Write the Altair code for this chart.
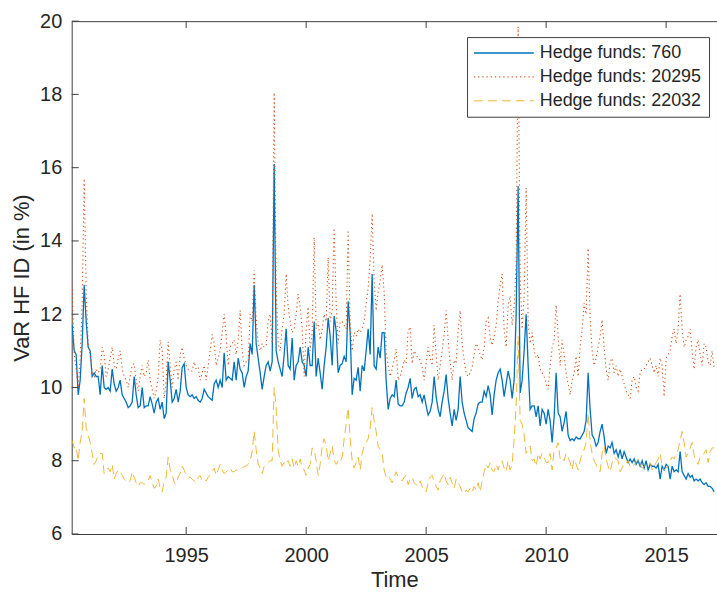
import altair as alt
import pandas as pd

# Monthly observations, first one in April 1990
start_year = 1990
start_month = 4

var_760 = [
    11.7, 11.0, 10.9, 9.8, 10.2, 11.2, 12.8, 11.8, 11.1, 11.0,
    10.3, 10.4, 10.3, 10.3, 9.8, 10.6, 10.0, 9.95, 10.0, 9.9,
    10.5, 10.1, 9.9, 10.0, 10.2, 9.8, 9.7, 9.6, 9.45, 9.5,
    9.6, 10.3, 9.8, 9.45, 9.5, 10.0, 9.45, 9.5, 9.5, 9.75,
    9.55, 9.3, 9.6, 9.7, 9.4, 9.6, 9.15, 9.3, 10.7, 10.2,
    9.6, 9.7, 9.95, 9.6, 9.9, 10.55, 10.65, 10.0, 9.8, 9.75,
    9.8, 9.7, 9.75, 9.65, 9.6, 9.7, 9.95, 9.85, 9.75, 9.7,
    9.65, 10.1, 10.2, 10.0, 10.2, 10.0, 10.95, 10.2, 10.3, 10.25,
    10.2, 10.7, 10.2, 10.8, 10.5, 10.4, 10.0, 10.3, 10.45, 11.2,
    10.9, 12.8, 11.2, 10.8, 10.4, 9.95, 10.3, 10.6, 10.7, 10.45,
    10.7, 16.1, 11.0, 10.7, 10.5, 10.3, 10.9, 11.6, 10.6, 10.5,
    11.35, 10.2, 10.6, 10.7, 11.1, 10.7, 10.6, 10.3, 11.1, 10.6,
    10.6, 11.8, 10.3, 10.8, 10.4, 9.95, 10.6, 11.1, 11.9, 11.4,
    10.6, 11.95, 11.55, 10.4, 10.6, 10.65, 10.85, 10.7, 12.35, 11.5,
    9.8, 10.25, 10.2, 10.55, 9.9, 10.6, 10.45, 11.0, 11.6, 10.9,
    13.1, 10.6, 10.5, 11.1, 10.8, 11.5, 11.5, 10.2, 9.4, 9.7,
    9.8, 9.75, 10.2, 9.55, 9.5, 9.5, 9.6, 9.85, 10.0, 10.25,
    9.7, 9.95, 10.0, 9.75, 9.8, 9.6, 9.8, 9.5, 9.25, 9.35,
    9.6, 10.3, 9.75, 9.4, 9.2, 9.6, 9.9, 10.35, 9.7, 9.3,
    8.95, 9.4, 9.1, 9.4, 10.3, 9.6, 9.3, 9.1, 8.9, 8.85,
    8.8, 9.15, 9.3, 9.55, 9.6, 9.6, 9.9, 9.75, 10.05, 9.8,
    9.25, 9.8, 10.2, 10.4, 10.5, 10.2, 9.75, 10.1, 10.45, 10.2,
    9.7, 10.2, 12.0, 15.5, 9.85, 10.2, 11.0, 12.0, 10.6, 9.4,
    9.5, 9.5, 9.2, 9.5, 8.95, 9.4, 9.3, 9.0, 9.4, 9.1,
    8.5, 9.2, 10.4, 9.3, 9.2, 8.8, 9.05, 9.35, 8.7, 8.55,
    8.6, 8.55, 8.65, 8.6, 8.6, 8.7, 8.8, 9.1, 10.4, 9.4,
    8.7, 8.6, 8.4, 8.5, 8.8, 9.0, 8.65, 8.2, 8.4, 8.35,
    8.5, 8.2, 8.3, 8.1, 8.3, 8.05, 8.25, 8.1, 7.95, 8.05,
    7.95, 8.05, 7.9, 8.0, 7.85, 8.0, 7.8, 8.0, 7.75, 7.9,
    7.85, 7.85, 7.8, 7.9, 7.5, 7.85, 7.75, 7.9, 7.85, 7.5,
    7.85, 7.7, 7.75, 7.7, 8.25, 7.7, 7.6, 7.5, 7.65, 7.55,
    7.6, 7.45, 7.5, 7.45, 7.5, 7.4, 7.35, 7.4, 7.3, 7.3, 7.25, 7.15,
]

var_20295 = [
    12.8, 10.9, 10.5, 10.0, 10.8, 12.3, 15.7, 12.6, 11.2, 10.9,
    10.4, 10.3, 10.5, 10.4, 10.5, 11.1, 10.9, 10.3, 10.5, 10.8,
    11.1, 10.6, 10.5, 10.8, 11.0, 10.5, 10.3, 10.2, 10.0, 10.3,
    10.6, 10.65, 10.2, 9.9, 10.3, 10.6, 10.3, 10.4, 10.75, 10.2,
    9.95, 9.7, 9.9, 10.3, 11.3, 11.0, 9.7, 10.2, 11.25, 10.6,
    10.0, 10.5, 10.7, 10.2, 10.9, 11.1, 10.8, 10.6, 10.5, 10.45,
    10.45, 10.7, 10.5, 10.55, 10.2, 10.4, 10.6, 10.2, 10.6, 11.0,
    11.45, 11.2, 10.6, 10.8, 11.0, 11.5, 12.0, 11.4, 10.6, 11.1,
    11.2, 11.3, 10.9, 11.3, 12.1, 11.0, 10.6, 10.7, 10.7, 12.0,
    11.8, 13.2, 11.9, 11.2, 11.0, 11.2, 11.1, 11.15, 11.8, 12.0,
    11.2, 18.05, 12.8, 11.2, 11.0, 11.6, 12.0, 13.1, 12.2, 11.8,
    11.5, 11.6, 12.0, 12.55, 12.2, 11.6, 10.3, 11.6, 12.2, 11.0,
    11.5, 14.1, 11.6, 11.8, 11.3, 11.6, 12.0, 11.8, 13.55, 11.8,
    12.1, 14.35, 12.3, 11.2, 11.8, 11.8, 11.7, 11.6, 14.3, 11.7,
    11.0, 11.5, 11.4, 11.6, 11.5, 11.6, 11.8, 12.3, 12.7, 13.5,
    14.75, 12.9, 12.1, 12.6, 12.9, 13.35, 12.6, 11.0, 10.6, 10.3,
    10.5, 10.75, 11.05, 10.2, 10.3, 10.5, 10.75, 10.65, 11.55, 11.65,
    10.65, 11.0, 10.9, 10.8, 10.75, 10.55, 10.2, 10.65, 11.1, 10.8,
    10.6, 11.7, 10.9, 10.2, 10.6, 11.0, 11.45, 12.1, 11.3, 10.7,
    10.2, 10.75, 10.65, 11.55, 12.1, 11.2, 10.75, 10.4, 10.3, 10.4,
    10.55, 10.9, 11.2, 11.1, 10.9, 10.75, 11.1, 11.8, 11.9, 11.35,
    11.15, 11.4, 11.7, 12.35, 12.8, 13.1, 11.55, 11.1, 12.25, 12.5,
    11.7, 12.2, 13.4, 19.85, 13.0, 11.6, 12.5, 15.45, 11.8, 11.2,
    11.5, 11.0, 10.8, 10.9, 10.5, 10.4, 10.3, 10.1, 9.95, 10.6,
    11.1, 11.3, 12.25, 11.4, 10.6, 11.3, 10.9, 10.4, 10.1, 9.8,
    10.2, 10.4, 10.85, 10.3, 11.1, 11.6, 12.3, 12.0, 13.8, 11.9,
    11.0, 10.6, 10.8, 11.1, 11.4, 11.85, 11.1, 10.5, 10.2, 10.7,
    10.8, 10.4, 10.6, 10.3, 10.5, 10.3, 10.1, 9.9, 9.8, 9.7,
    10.2, 10.3, 10.0, 9.9, 10.4, 10.5, 10.5, 10.6, 10.7, 10.8,
    10.6, 10.4, 10.6, 10.3, 10.8, 10.6, 9.75, 10.8, 10.9, 11.0,
    11.4, 11.6, 11.2, 11.6, 12.55, 11.6, 11.1, 11.3, 11.4, 11.6,
    11.0, 10.5, 11.1, 11.3, 10.9, 10.6, 11.2, 11.1, 10.7, 10.6, 11.0, 10.5,
]

var_22032 = [
    8.55, 8.35, 8.4, 8.0, 8.5, 8.8, 9.7, 8.9, 8.7, 8.5,
    8.2, 7.9, 8.0, 8.15, 8.2, 8.2, 7.65, 7.75, 7.8, 7.7,
    7.9, 7.5, 7.65, 7.75, 7.7, 7.6, 7.5, 7.45, 7.4, 7.45,
    7.7, 7.55, 7.4, 7.3, 7.4, 7.4, 7.35, 7.4, 7.45, 7.6,
    7.4, 7.25, 7.3, 7.5, 7.25, 7.15, 7.45, 7.55, 8.1, 7.75,
    7.65, 7.4, 7.35, 7.55, 7.65, 7.85, 7.75, 7.6, 7.55, 7.55,
    7.5, 7.45, 7.4, 7.55, 7.6, 7.45, 7.5, 7.45, 7.55, 7.6,
    7.7, 7.8, 7.6, 7.75, 7.9, 7.75, 7.65, 7.7, 7.75, 7.8,
    7.7, 7.7, 7.75, 7.75, 7.8, 7.8, 7.85, 7.85, 7.9, 8.0,
    8.25, 8.8, 8.3, 7.9, 7.8, 7.65, 7.85, 7.9, 7.95, 8.0,
    8.0, 10.0, 9.45, 8.3, 8.0, 7.85, 7.95, 7.9, 8.0, 7.85,
    8.05, 7.8, 8.0, 7.85, 8.05, 7.8, 7.75, 7.6, 7.8, 7.9,
    8.35, 8.3, 8.0, 7.6, 7.9, 8.4, 8.6, 8.4, 8.0, 8.2,
    8.4, 8.0, 7.9, 8.0, 7.95, 8.1, 8.6, 9.0, 9.45, 8.6,
    8.0, 7.8, 7.95, 8.1, 7.75, 8.2, 8.4, 8.5, 8.6, 8.9,
    9.45, 9.1, 8.8, 8.4, 8.3, 8.2, 7.75, 7.55, 7.6, 7.5,
    7.4, 7.55, 7.7, 7.55, 7.5, 7.45, 7.55, 7.6, 7.35, 7.5,
    7.55, 7.4, 7.35, 7.3, 7.45, 7.3, 7.2, 7.15, 7.4, 7.55,
    7.6, 7.45, 7.3, 7.2, 7.45, 7.55, 7.65, 7.45, 7.35, 7.55,
    7.4, 7.25, 7.5, 7.4, 7.3, 7.15, 7.1, 7.2, 7.15, 7.25,
    7.15, 7.3, 7.2, 7.4, 7.15, 7.45, 7.7, 7.9, 7.8, 7.95,
    7.75, 7.7, 7.9, 7.75, 7.95, 8.0, 7.8, 7.7, 8.0, 7.75,
    7.9, 8.6, 9.5, 11.4, 9.1, 9.0, 8.7, 8.2, 8.3, 8.4,
    8.0, 8.05, 7.85, 8.2, 8.05, 8.2, 8.1, 7.95, 7.95, 8.2,
    7.75, 8.3, 8.35, 8.5, 8.05, 8.1, 8.0, 8.2, 8.1, 7.95,
    7.75, 8.05, 7.9, 7.75, 8.0, 8.2, 8.3, 8.5, 9.3, 8.5,
    8.2, 8.0, 7.9, 7.75, 7.7, 8.2, 8.4, 8.05, 7.85, 7.7,
    7.95, 8.1, 8.05, 8.0, 7.7, 7.8, 7.95, 7.95, 8.0, 7.85,
    7.8, 7.9, 7.95, 8.05, 7.9, 7.8, 7.85, 7.9, 7.9, 7.95,
    7.75, 7.85, 7.95, 8.05, 8.2, 7.85, 7.75, 7.8, 7.9, 8.0,
    8.1, 8.05, 8.2, 8.3, 8.55, 8.8, 8.5, 8.1, 8.2, 8.35,
    8.5, 8.15, 8.0, 7.9, 8.1, 8.15, 8.2, 8.3, 7.95, 8.25, 8.35, 8.35,
]

series_names = ["Hedge funds: 760", "Hedge funds: 20295", "Hedge funds: 22032"]
series_values = [var_760, var_20295, var_22032]
series_colors = ["#0072BD", "#D95319", "#EDB120"]
series_dashes = [[1, 0], [1.2, 3], [9, 5]]
series_widths = [1.3, 0.9, 1.3]

x_ticks = [1995, 2000, 2005, 2010, 2015]
y_ticks = [6, 8, 10, 12, 14, 16, 18, 20]

FONT = "Liberation Sans"
INK = "#262626"
FRAME = "#404040"
W, H = 648, 515

rows = []
for name, vals in zip(series_names, series_values):
    for i, v in enumerate(vals):
        rows.append({"t": start_year + (start_month - 1 + i) / 12, "v": v, "series": name})
df = pd.DataFrame(rows)

x_scale = alt.Scale(domain=[1990.23, 2017.12], nice=False, zero=False)
y_scale = alt.Scale(domain=[6, 20], nice=False, zero=False)

legend_spec = alt.Legend(
    title=None,
    orient="none",
    legendX=397,
    legendY=16,
    padding=7,
    strokeColor=FRAME,
    fillColor="white",
    rowPadding=6,
    symbolType="M-4,0H4",
    symbolSize=225,
    symbolOffset=21,
    symbolStrokeWidth=1.2,
    labelOffset=27,
    labelFont=FONT,
    labelFontSize=18,
    labelColor=INK,
    labelLimit=300,
)

lines = alt.Chart(df).mark_line(clip=True).encode(
    x=alt.X("t:Q", scale=x_scale,
            axis=alt.Axis(values=x_ticks, format="d", title="Time",
                          labelPadding=12, titlePadding=4)),
    y=alt.Y("v:Q", scale=y_scale,
            axis=alt.Axis(values=y_ticks, title="VaR HF ID (in %)",
                          labelPadding=10, titlePadding=6)),
    color=alt.Color("series:N", scale=alt.Scale(domain=series_names, range=series_colors),
                    legend=legend_spec),
    strokeDash=alt.StrokeDash("series:N", scale=alt.Scale(domain=series_names, range=series_dashes),
                              legend=legend_spec),
    strokeWidth=alt.StrokeWidth("series:N", scale=alt.Scale(domain=series_names, range=series_widths),
                                legend=None),
)

# inward tick marks on the left, bottom and top edges of the box
ytick_df = pd.DataFrame({"v": y_ticks})
xtick_df = pd.DataFrame({"t": x_ticks})

left_ticks = alt.Chart(ytick_df).mark_rule(color=FRAME, strokeWidth=1).encode(
    y=alt.Y("v:Q", scale=y_scale),
    x=alt.value(0), x2=alt.value(7),
)
bottom_ticks = alt.Chart(xtick_df).mark_rule(color=FRAME, strokeWidth=1).encode(
    x=alt.X("t:Q", scale=x_scale),
    y=alt.value(H), y2=alt.value(H - 7),
)
top_ticks = alt.Chart(xtick_df).mark_rule(color=FRAME, strokeWidth=1).encode(
    x=alt.X("t:Q", scale=x_scale),
    y=alt.value(0), y2=alt.value(7),
)

chart = (
    alt.layer(lines, left_ticks, bottom_ticks, top_ticks)
    .properties(
        width=W, height=H,
        padding={"left": 72, "top": 20, "right": 0, "bottom": 57},
        autosize=alt.AutoSizeParams(type="none"),
        background="white",
    )
    .configure_view(stroke=FRAME, strokeWidth=1)
    .configure_axis(
        labelFont=FONT, labelFontSize=20, labelColor=INK,
        titleFont=FONT, titleFontSize=22, titleColor=INK, titleFontWeight="normal",
        domain=False, ticks=False, grid=False,
    )
)

chart.save("out.html", embed_options={"renderer": "svg", "actions": False})
